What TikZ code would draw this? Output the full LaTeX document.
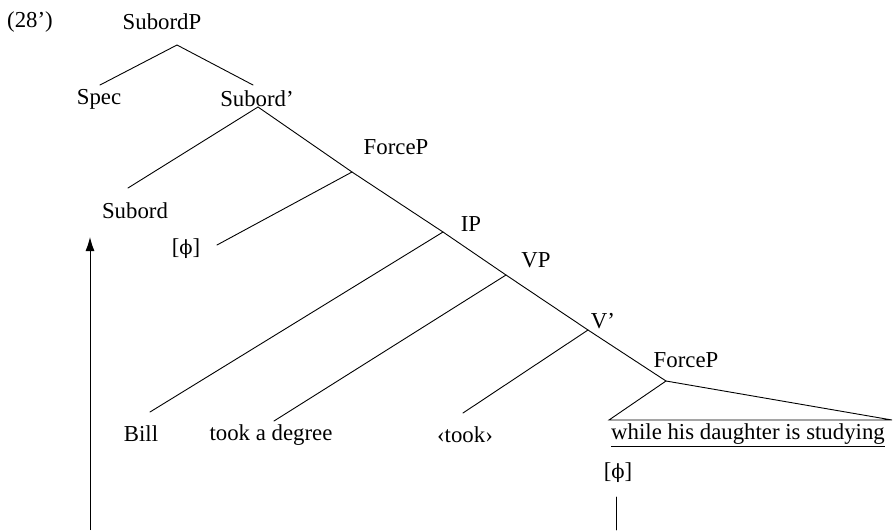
\documentclass[tikz,border=0pt]{standalone}
\usepackage{fontspec}
\setmainfont{Liberation Serif}
\newfontfamily\phifont{DejaVu Serif}
\newcommand{\myphi}{{\phifont\fontsize{19.5}{24}\selectfont ϕ}}
\usetikzlibrary{arrows.meta}
\begin{document}
\begin{tikzpicture}[x=1pt,y=-1pt,
  lbl/.style={inner sep=0pt,font=\fontsize{22.8}{27}\selectfont,anchor=center},
  edge/.style={line width=0.9pt,line cap=round}]
\useasboundingbox (0,0) rectangle (893,530);
% labels
\node[lbl] (ex) at (30,22) {(28’)};
\node[lbl] (subordp) at (162,22) {SubordP};
\node[lbl] (spec) at (99,99) {Spec};
\node[lbl] (subordbar) at (257,99) {Subord’};
\node[lbl] (forcep) at (396,147) {ForceP};
\node[lbl] (subord) at (135,211) {Subord};
\node[lbl] (phi1) at (186,249) {[\myphi]};
\node[lbl] (ip) at (471,224) {IP};
\node[lbl] (vp) at (536,260) {VP};
\node[lbl] (vbar) at (603,321) {V’};
\node[lbl] (forcep2) at (686,360) {ForceP};
\node[lbl] (bill) at (141,434) {Bill};
\node[lbl] (took) at (271,435) {took a degree};
\node[lbl] (ttook) at (465,435) {‹took›};
\node[lbl] (while) at (748,435) {\underline{while his daughter is studying}};
\node[lbl] (phi2) at (618,473) {[\myphi]};
% branch points
\coordinate (a0) at (177,45);
\coordinate (aspec) at (100,85);
\coordinate (asub) at (253,85);
\coordinate (b0) at (258,107);
\coordinate (bsub) at (128,188);
\coordinate (c0) at (352,172);
\coordinate (cphi) at (217,245);
\coordinate (d0) at (443,232);
\coordinate (dbill) at (150,412);
\coordinate (e0) at (506,275);
\coordinate (etook) at (274,421);
\coordinate (f0) at (588,330);
\coordinate (ftook) at (463,413);
\coordinate (g0) at (666,381);
\coordinate (gl) at (609,420);
\coordinate (gr) at (892,420);
\coordinate (arrbot) at (90,530);
\coordinate (arrtop) at (90,237);
\coordinate (vtop) at (616,497);
\coordinate (vbot) at (616,530);
% edges
\draw[edge] (aspec) -- (a0) -- (asub);
\draw[edge] (bsub) -- (b0) -- (c0) -- (d0) -- (e0) -- (f0) -- (g0);
\draw[edge] (c0) -- (cphi);
\draw[edge] (d0) -- (dbill);
\draw[edge] (e0) -- (etook);
\draw[edge] (f0) -- (ftook);
\draw[edge,line join=miter] (g0) -- (gl) -- (gr) -- cycle;
\draw[line width=0.9pt,-{Latex[length=14pt,width=9pt]}] (arrbot) -- (arrtop);
\draw[edge] (vtop) -- (vbot);
\end{tikzpicture}
\end{document}
